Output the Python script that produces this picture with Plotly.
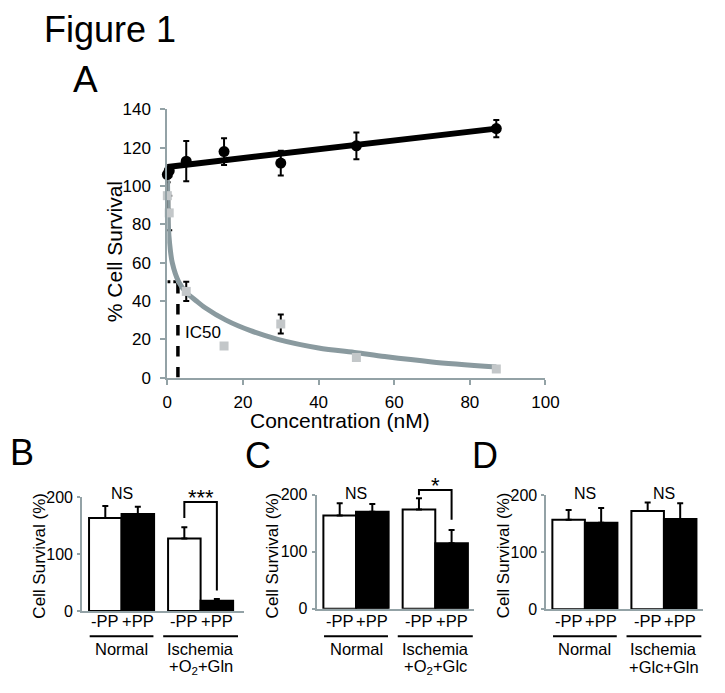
import plotly.graph_objects as go

W, H = 725, 693
FONT = "Liberation Sans, Arial, Helvetica, sans-serif"
AXIS_GRAY = "#93a2a6"
CURVE_GRAY = "#8a9a9f"
SQUARE_GRAY = "#c3c7c9"

# ---------------- Panel A data ----------------
conc = [0, 0.5, 5, 15, 30, 50, 87]
ctrl_mean = [106, 108, 113, 118, 112, 121, 130]
ctrl_err = [4, 3, 10.5, 7, 6.5, 7, 4.5]
pp_mean = [95, 86, 45, 16.5, 28, 10.5, 4.5]
pp_err = [7, 9, 5, 1.5, 5, 0.5, 0.5]
ctrl_fit_x = [0, 87]
ctrl_fit_y = [110, 130]
pp_fit_x = [0.05, 0.25, 0.6, 1.3, 3, 5, 7.7, 10, 15.5, 22, 29.2, 40, 50, 57.5, 70, 87]
pp_fit_y = [103, 80, 70, 60, 50, 44.5, 40, 36.5, 30, 24.5, 20, 15.5, 13, 11, 8.2, 5.5]
ic50_x = 2.8
ic50_y = 50
a_xticks = [0, 20, 40, 60, 80, 100]
a_yticks = [0, 20, 40, 60, 80, 100, 120, 140]

# ---------------- Bar panels data ----------------
bar_pos = [0, 1, 2.43, 3.43]
bar_labels = ["-PP", "+PP", "-PP", "+PP"]
bar_colors = ["white", "black", "white", "black"]
b_vals = [163, 170, 127, 18]
b_err = [21, 13, 20, 3]
c_vals = [163.5, 170, 174, 115]
c_err = [21.5, 13.5, 19.5, 23]
d_vals = [157, 152, 172.5, 158.5]
d_err = [17, 25.5, 15, 27.5]
group1_label = "Normal"
b_group2 = ["Ischemia", "+O<sub>2</sub>+Gln"]
c_group2 = ["Ischemia", "+O<sub>2</sub>+Glc"]
d_group2 = ["Ischemia", "+Glc+Gln"]
b_sig = ["NS", "***"]
c_sig = ["NS", "*"]
d_sig = ["NS", "NS"]
b_bracket = dict(level=191, left_end=163, right_end=36)
c_bracket = dict(level=208, left_end=199, right_end=156)
bar_yticks = [0, 100, 200]


def px2paper(x, y):
    return x / W, 1 - y / H


fig = go.Figure()

# ---------------- Panel A ----------------
A = dict(left=166.7, right=555, bottom=379, top=103.3)
fig.add_trace(go.Scatter(x=ctrl_fit_x, y=ctrl_fit_y, mode="lines",
                         line=dict(color="black", width=6), xaxis="x", yaxis="y",
                         showlegend=False, hoverinfo="skip"))
fig.add_trace(go.Scatter(x=conc, y=ctrl_mean, mode="markers",
                         marker=dict(color="black", size=11, symbol="circle"),
                         error_y=dict(type="data", array=ctrl_err, color="black",
                                      thickness=2, width=3),
                         xaxis="x", yaxis="y", showlegend=False, cliponaxis=False))
fig.add_trace(go.Scatter(x=[0, ic50_x], y=[ic50_y, ic50_y], mode="lines",
                         line=dict(color="black", width=3, dash="dot"),
                         xaxis="x", yaxis="y", showlegend=False, hoverinfo="skip"))
fig.add_trace(go.Scatter(x=[ic50_x, ic50_x], y=[0, ic50_y], mode="lines",
                         line=dict(color="black", width=3.5, dash="dash"),
                         xaxis="x", yaxis="y", showlegend=False, hoverinfo="skip"))
fig.add_trace(go.Scatter(x=conc, y=pp_mean, mode="markers",
                         marker=dict(color=SQUARE_GRAY, size=1, symbol="square"),
                         error_y=dict(type="data", array=pp_err, color="black",
                                      thickness=2, width=3),
                         xaxis="x", yaxis="y", showlegend=False, cliponaxis=False))
fig.add_trace(go.Scatter(x=pp_fit_x, y=pp_fit_y, mode="lines",
                         line=dict(color=CURVE_GRAY, width=5, shape="spline", smoothing=0.8),
                         xaxis="x", yaxis="y", showlegend=False, hoverinfo="skip",
                         cliponaxis=False))
fig.add_trace(go.Scatter(x=conc, y=pp_mean, mode="markers",
                         marker=dict(color=SQUARE_GRAY, size=9, symbol="square"),
                         xaxis="x", yaxis="y", showlegend=False, cliponaxis=False))

layout = dict(
    width=W, height=H, autosize=False,
    margin=dict(l=0, r=0, t=0, b=0),
    paper_bgcolor="white", plot_bgcolor="white",
    font=dict(family=FONT, color="black"),
    showlegend=False,
)
layout["xaxis"] = dict(domain=[A["left"] / W, A["right"] / W], range=[0, 100],
                       tickvals=a_xticks, showline=True, linecolor=AXIS_GRAY, linewidth=2,
                       ticks="outside", ticklen=5, tickcolor=AXIS_GRAY, tickwidth=1.5,
                       showgrid=False, zeroline=False, tickfont=dict(size=17),
                       anchor="y", ticklabelstandoff=3)
layout["yaxis"] = dict(domain=[1 - A["bottom"] / H, 1 - A["top"] / H], range=[0, 140],
                       tickvals=a_yticks, showline=True, linecolor=AXIS_GRAY, linewidth=2,
                       ticks="outside", ticklen=5, tickcolor=AXIS_GRAY, tickwidth=1.5,
                       showgrid=False, zeroline=False, tickfont=dict(size=17),
                       anchor="x", ticklabelstandoff=6)

annotations = []
shapes = []


def ann(px_, py_, text, size, **kw):
    x, y = px2paper(px_, py_)
    d = dict(x=x, y=y, xref="paper", yref="paper", text=text, showarrow=False,
             font=dict(size=size, family=FONT, color="black"),
             xanchor="center", yanchor="middle", borderpad=0)
    d.update(kw)
    annotations.append(d)


ann(108, 21, "Figure 1", 36)
ann(83, 73, "A", 37)
ann(112, 250, "% Cell Survival", 21, textangle=-90)
ann(344, 423, "Concentration (nM)", 21)
annotations.append(dict(x=9.4, y=23.5, xref="x", yref="y", text="IC50", showarrow=False,
                        font=dict(size=17, family=FONT, color="black"),
                        xanchor="center", yanchor="middle"))

# ---------------- Bar panels ----------------
panels = [
    dict(letter="B", lpos=(17, 456), left=79.3, right=245, c0=103, unit=33.4,
         y0=619, ytop=501.7, vals=b_vals, err=b_err, g2=b_group2, sig=b_sig,
         bracket=b_bracket, ytx=36),
    dict(letter="C", lpos=(260, 459), left=320, right=482, c0=343.7, unit=33.5,
         y0=616.7, ytop=499.3, vals=c_vals, err=c_err, g2=c_group2, sig=c_sig,
         bracket=c_bracket, ytx=275),
    dict(letter="D", lpos=(493, 459), left=556, right=717, c0=578.8, unit=33.4,
         y0=617.3, ytop=500, vals=d_vals, err=d_err, g2=d_group2, sig=d_sig,
         bracket=None, ytx=512),
]

for i, p in enumerate(panels):
    n = i + 2
    xa, ya = f"x{n}", f"y{n}"
    fig.add_trace(go.Bar(x=bar_pos, y=p["vals"], width=1,
                         marker=dict(color=bar_colors, line=dict(color="black", width=2)),
                         error_y=dict(type="data", symmetric=False, array=p["err"],
                                      arrayminus=[0] * len(p["err"]), color="black",
                                      thickness=2, width=3),
                         xaxis=xa, yaxis=ya, showlegend=False, cliponaxis=False))
    rng = [(p["left"] - p["c0"]) / p["unit"], (p["right"] - p["c0"]) / p["unit"]]
    layout[f"xaxis{n}"] = dict(domain=[p["left"] / W, p["right"] / W], range=rng,
                               showline=True, linecolor=AXIS_GRAY, linewidth=2,
                               showticklabels=False, ticks="", showgrid=False,
                               zeroline=False, anchor=ya, fixedrange=True)
    layout[f"yaxis{n}"] = dict(domain=[1 - p["y0"] / H, 1 - p["ytop"] / H], range=[0, 200],
                               tickvals=bar_yticks, showline=True, linecolor=AXIS_GRAY,
                               linewidth=2, ticks="outside", ticklen=3, tickcolor=AXIS_GRAY,
                               tickwidth=1.5, showgrid=False, zeroline=False,
                               tickfont=dict(size=16), anchor=xa, ticklabelstandoff=1)

    def bx(v, p=p):
        return p["c0"] + v * p["unit"]

    def by(v, p=p):
        return p["y0"] - (p["y0"] - p["ytop"]) * v / 200

    ann(p["lpos"][0], p["lpos"][1], p["letter"], 36)
    ann(p["ytx"], 562, "Cell Survival (%)", 17, textangle=-90)

    for pos, lab in zip(bar_pos, bar_labels):
        ann(bx(pos), 629, lab, 16.5)

    g1c = (bar_pos[0] + bar_pos[1]) / 2
    g2c = (bar_pos[2] + bar_pos[3]) / 2
    # underlines
    for gc, half in ((g1c, 0.98), (g2c, 1.15)):
        x0, y0 = px2paper(bx(gc - half), 645)
        x1, _ = px2paper(bx(gc + half), 645)
        shapes.append(dict(type="line", xref="paper", yref="paper", x0=x0, x1=x1,
                           y0=y0, y1=y0, line=dict(color="black", width=2)))
    ann(bx(g1c), 658, group1_label, 16.5)
    ann(bx(g2c), 658, p["g2"][0], 16.5)
    ann(bx(g2c), 677, p["g2"][1], 16.5)

    # significance labels
    s1, s2 = p["sig"]
    ann(bx(g1c), 498, s1, 16)
    if s2 == "NS":
        ann(bx(g2c), 498, s2, 16)
    else:
        ann(bx(g2c), 502 if len(s2) > 1 else 490, s2, 22)

    br = p["bracket"]
    if br:
        xl, xr = bx(bar_pos[2]), bx(bar_pos[3])
        pts = [(xl, by(br["left_end"])), (xl, by(br["level"])),
               (xr, by(br["level"])), (xr, by(br["right_end"]))]
        path = ""
        for k, (qx, qy) in enumerate(pts):
            fx, fy = px2paper(qx, qy)
            path += ("M" if k == 0 else "L") + f"{fx},{fy} "
        shapes.append(dict(type="path", xref="paper", yref="paper", path=path.strip(),
                           line=dict(color="black", width=2)))

layout["annotations"] = annotations
layout["shapes"] = shapes
fig.update_layout(**layout)
fig.write_html("out.html", config={"displayModeBar": False},
               post_script="document.body.style.margin='0';document.body.style.overflow='hidden';")
